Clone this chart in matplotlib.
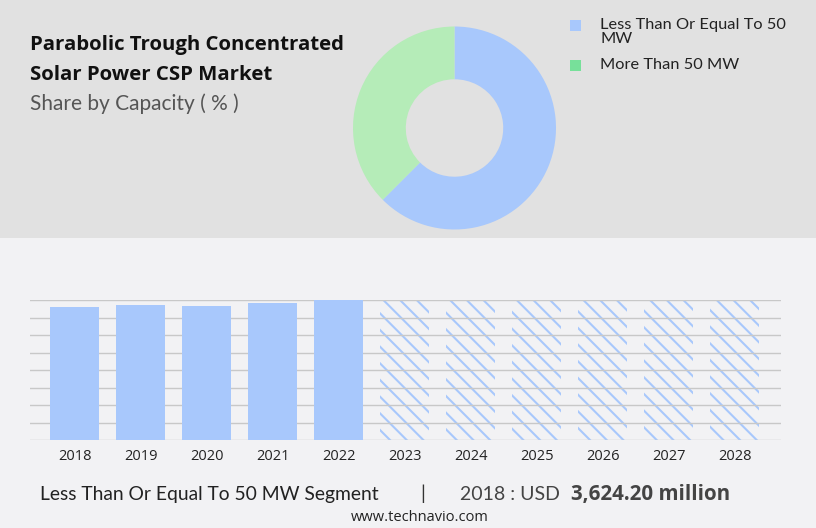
import matplotlib
matplotlib.use('Agg')
import matplotlib.pyplot as plt
from matplotlib.patches import Rectangle

# data
years = ['2018', '2019', '2020', '2021', '2022', '2023', '2024', '2025', '2026', '2027', '2028']
hist_values = [3624.2, 3671.0, 3644.0, 3725.0, 3807.0]   # USD million
share_labels = ['Less Than Or Equal To 50\nMW', 'More Than 50 MW']
share_values = [62.5, 37.5]

W, H = 816, 528
blue = '#a8c8fc'
green_pie = '#b5ecb8'
green_leg = '#77e09a'


def fx(x):
    return x / W


def fy(y):
    return 1 - y / H


plt.rcParams['hatch.linewidth'] = 1.5
fig = plt.figure(figsize=(W / 100, H / 100), dpi=100)
fig.patch.set_facecolor('#f2f2f4')

# grey top panel (behind the donut axes)
fig.patches.append(Rectangle((0, fy(238)), 1, 238 / H, transform=fig.transFigure,
                             facecolor='#e1e1e1', edgecolor='none', zorder=-5))

# titles
fig.text(fx(30), fy(50), 'Parabolic Trough Concentrated', fontsize=14.7, fontweight='bold',
         family='Open Sans', color='#111111', va='baseline')
fig.text(fx(30), fy(80), 'Solar Power CSP Market', fontsize=14.7, fontweight='bold',
         family='Open Sans', color='#111111', va='baseline')
fig.text(fx(30), fy(110), 'Share by Capacity ( % )', fontsize=15, family='Lato',
         color='#555555', va='baseline')

# donut
cx, cy, r = 454.5, 128, 101.5
bottom = 228
axp = fig.add_axes([fx(cx - r), fy(bottom), 2 * r / W, (bottom - (cy - r)) / H])
axp.pie(share_values, colors=[blue, green_pie], startangle=90, counterclock=False,
        radius=1, wedgeprops=dict(width=0.52, edgecolor='none'))
axp.set_xlim(-1, 1)
axp.set_ylim(-(bottom - cy) / r, 1)
axp.set_aspect('auto')
axp.axis('off')

# legend
leg_y = [20, 60]
for lab, col, y in zip(share_labels, [blue, green_leg], leg_y):
    fig.patches.append(Rectangle((fx(570), fy(y + 11)), 11 / W, 11 / H, transform=fig.transFigure,
                                 facecolor=col, edgecolor='none'))
    # draw each line on its own baseline, 14 px apart
    for k, line in enumerate(lab.split('\n')):
        fig.text(fx(600), fy(y + 9 + 14 * k), line, fontsize=11.75, family='Lato',
                 color='#222222', va='baseline')

# bar chart
ax = fig.add_axes([fx(30), fy(440), (781 - 30) / W, 140 / H])
ax.set_facecolor('none')
ymax = max(hist_values)
x = list(range(len(years)))
n_hist = len(hist_values)
ax.bar(x[:n_hist], hist_values, width=0.74, color=blue, zorder=3)
ax.bar(x[n_hist:], [ymax] * (len(years) - n_hist), width=0.74, facecolor='none',
       edgecolor=blue, hatch='\\\\', linewidth=0, zorder=1)
ax.set_xlim(-0.674, 10.70)
ax.set_ylim(0, ymax)
ax.set_yticks([ymax * i / 8 for i in range(9)])
ax.yaxis.grid(True, color='#c8c8c8', linewidth=1, zorder=2)
ax.tick_params(axis='y', left=False, labelleft=False)
ax.tick_params(axis='x', bottom=False, pad=3)
ax.set_xticks(x)
ax.set_xticklabels(years, fontsize=10.5, family='Open Sans', color='#222222')
for s in ax.spines.values():
    s.set_visible(False)

# footer
fig.text(fx(40), fy(500), 'Less Than Or Equal To 50 MW Segment', fontsize=13.9, family='Lato',
         color='#222222', va='baseline')
fig.text(fx(423), fy(500), '|', fontsize=14, family='Lato', color='#333333', va='baseline', ha='center')
fig.text(fx(460), fy(500), '2018 : USD', fontsize=14, family='Lato', color='#444444', va='baseline')
fig.text(fx(571), fy(500), '3,624.20 million', fontsize=14.8, family='Open Sans', fontweight='bold',
         color='#444444', va='baseline')
fig.text(fx(420), fy(521), 'www.technavio.com', fontsize=10.5, family='Open Sans',
         color='#222222', va='baseline', ha='center')

fig.savefig('out.png', dpi=100, facecolor=fig.get_facecolor())
